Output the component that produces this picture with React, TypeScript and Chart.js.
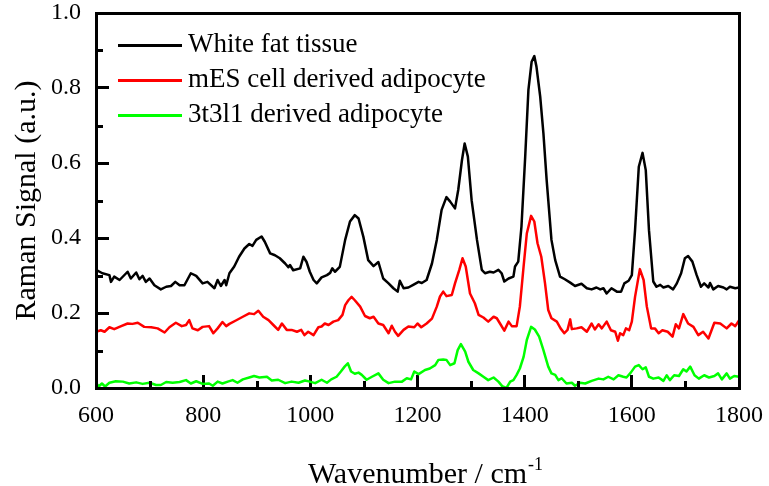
import { useEffect, useRef } from "react";
import { Chart, registerables } from "chart.js";

Chart.register(...registerables);

const FONT = "'Liberation Serif', 'Times New Roman', Times, serif";

const seriesLabels = ["White fat tissue", "mES cell derived adipocyte", "3t3l1 derived adipocyte"];
const seriesColors = ["#000000", "#ff0000", "#00ff00"];

const xTitle = "Wavenumber / cm";
const xTitleSup = "-1";
const yTitle = "Raman Signal (a.u.)";

const whiteWn = [600, 612, 625, 628, 634, 644, 659, 665, 675, 681, 687, 693, 700, 709, 721, 731, 740, 748, 756, 765, 777, 787, 799, 808, 821, 827, 833, 840, 843, 849, 858, 867, 877, 886, 892, 899, 909, 915, 925, 934, 943, 953, 959, 962, 968, 981, 987, 993, 999, 1006, 1012, 1021, 1031, 1037, 1041, 1046, 1055, 1065, 1074, 1083, 1090, 1099, 1108, 1118, 1127, 1136, 1146, 1155, 1163, 1167, 1174, 1183, 1192, 1202, 1208, 1217, 1227, 1236, 1245, 1254, 1261, 1270, 1276, 1283, 1288, 1294, 1301, 1311, 1320, 1326, 1335, 1342, 1351, 1357, 1362, 1370, 1379, 1382, 1388, 1394, 1401, 1407, 1413, 1418, 1422, 1429, 1435, 1441, 1450, 1457, 1466, 1475, 1485, 1494, 1506, 1516, 1525, 1534, 1541, 1547, 1553, 1562, 1572, 1580, 1586, 1594, 1600, 1606, 1613, 1620, 1626, 1632, 1640, 1646, 1653, 1659, 1668, 1677, 1684, 1692, 1699, 1705, 1713, 1721, 1729, 1735, 1743, 1746, 1752, 1761, 1771, 1777, 1783, 1793, 1800];
const whiteVal = [0.315, 0.306, 0.301, 0.283, 0.297, 0.288, 0.31, 0.292, 0.308, 0.29, 0.299, 0.283, 0.292, 0.274, 0.263, 0.27, 0.272, 0.283, 0.274, 0.274, 0.306, 0.299, 0.279, 0.283, 0.266, 0.288, 0.272, 0.288, 0.274, 0.306, 0.324, 0.35, 0.372, 0.384, 0.379, 0.395, 0.404, 0.39, 0.359, 0.354, 0.346, 0.332, 0.322, 0.328, 0.314, 0.319, 0.35, 0.336, 0.31, 0.288, 0.279, 0.295, 0.301, 0.307, 0.319, 0.31, 0.323, 0.395, 0.444, 0.461, 0.452, 0.403, 0.341, 0.325, 0.336, 0.292, 0.279, 0.266, 0.257, 0.286, 0.266, 0.268, 0.275, 0.283, 0.28, 0.288, 0.332, 0.395, 0.475, 0.509, 0.497, 0.479, 0.528, 0.608, 0.652, 0.617, 0.501, 0.395, 0.315, 0.306, 0.31, 0.308, 0.315, 0.306, 0.284, 0.292, 0.297, 0.324, 0.337, 0.43, 0.617, 0.795, 0.87, 0.885, 0.857, 0.777, 0.679, 0.555, 0.395, 0.341, 0.297, 0.29, 0.281, 0.272, 0.278, 0.266, 0.263, 0.268, 0.263, 0.266, 0.252, 0.266, 0.257, 0.257, 0.279, 0.286, 0.301, 0.421, 0.59, 0.627, 0.581, 0.421, 0.284, 0.27, 0.275, 0.268, 0.272, 0.263, 0.279, 0.306, 0.346, 0.352, 0.337, 0.301, 0.27, 0.279, 0.268, 0.28, 0.263, 0.272, 0.268, 0.263, 0.27, 0.266, 0.268];

const mesWn = [600, 609, 616, 625, 634, 647, 659, 668, 678, 690, 703, 715, 728, 737, 749, 760, 768, 774, 780, 790, 799, 811, 819, 827, 836, 843, 849, 861, 874, 886, 895, 903, 912, 922, 931, 940, 947, 956, 965, 975, 983, 989, 996, 1006, 1015, 1021, 1027, 1034, 1043, 1052, 1060, 1065, 1071, 1077, 1083, 1093, 1102, 1111, 1118, 1127, 1136, 1146, 1152, 1158, 1164, 1174, 1183, 1194, 1200, 1207, 1217, 1227, 1236, 1242, 1248, 1254, 1264, 1270, 1278, 1284, 1290, 1298, 1307, 1314, 1323, 1332, 1342, 1348, 1354, 1362, 1370, 1376, 1385, 1391, 1398, 1404, 1412, 1418, 1424, 1431, 1438, 1444, 1450, 1460, 1467, 1474, 1480, 1485, 1488, 1497, 1506, 1516, 1525, 1531, 1538, 1544, 1553, 1561, 1569, 1574, 1578, 1584, 1589, 1595, 1600, 1606, 1615, 1622, 1628, 1636, 1643, 1650, 1657, 1667, 1676, 1682, 1688, 1696, 1705, 1715, 1724, 1733, 1743, 1754, 1765, 1777, 1786, 1793, 1800];
const mesVal = [0.15, 0.154, 0.15, 0.162, 0.157, 0.165, 0.172, 0.171, 0.174, 0.163, 0.162, 0.159, 0.148, 0.162, 0.174, 0.165, 0.168, 0.181, 0.159, 0.154, 0.163, 0.165, 0.146, 0.159, 0.176, 0.165, 0.171, 0.18, 0.19, 0.199, 0.197, 0.206, 0.19, 0.181, 0.168, 0.155, 0.172, 0.155, 0.155, 0.15, 0.155, 0.141, 0.15, 0.141, 0.162, 0.164, 0.172, 0.168, 0.177, 0.181, 0.195, 0.221, 0.234, 0.243, 0.234, 0.217, 0.192, 0.186, 0.19, 0.172, 0.168, 0.146, 0.166, 0.15, 0.139, 0.155, 0.164, 0.162, 0.172, 0.162, 0.172, 0.185, 0.217, 0.244, 0.257, 0.245, 0.248, 0.279, 0.315, 0.346, 0.324, 0.252, 0.226, 0.195, 0.188, 0.177, 0.19, 0.186, 0.172, 0.153, 0.177, 0.165, 0.165, 0.217, 0.324, 0.412, 0.459, 0.444, 0.386, 0.35, 0.279, 0.208, 0.186, 0.177, 0.159, 0.146, 0.155, 0.183, 0.157, 0.159, 0.162, 0.15, 0.172, 0.156, 0.17, 0.159, 0.177, 0.154, 0.15, 0.126, 0.146, 0.141, 0.159, 0.154, 0.177, 0.243, 0.317, 0.288, 0.217, 0.159, 0.159, 0.146, 0.154, 0.15, 0.137, 0.17, 0.159, 0.197, 0.172, 0.163, 0.141, 0.15, 0.132, 0.174, 0.172, 0.159, 0.172, 0.165, 0.18];

const t3Wn = [600, 605, 611, 617, 625, 637, 650, 662, 675, 687, 700, 712, 721, 731, 743, 756, 768, 777, 787, 799, 811, 818, 827, 836, 846, 855, 864, 874, 886, 895, 905, 919, 928, 940, 953, 965, 978, 990, 999, 1009, 1021, 1031, 1039, 1049, 1057, 1064, 1070, 1076, 1083, 1090, 1096, 1105, 1115, 1127, 1136, 1146, 1158, 1171, 1180, 1188, 1194, 1202, 1214, 1223, 1233, 1239, 1248, 1254, 1261, 1269, 1275, 1281, 1289, 1295, 1304, 1314, 1323, 1332, 1342, 1351, 1358, 1366, 1373, 1379, 1385, 1391, 1398, 1404, 1412, 1419, 1427, 1435, 1444, 1450, 1457, 1463, 1469, 1478, 1488, 1494, 1503, 1513, 1525, 1538, 1547, 1556, 1566, 1575, 1584, 1590, 1598, 1606, 1613, 1620, 1626, 1632, 1640, 1650, 1659, 1665, 1671, 1679, 1688, 1696, 1702, 1709, 1717, 1725, 1735, 1744, 1754, 1761, 1768, 1777, 1783, 1791, 1800];
const t3Val = [0.014, 0.004, 0.012, 0.004, 0.014, 0.018, 0.017, 0.012, 0.015, 0.011, 0.014, 0.008, 0.008, 0.016, 0.014, 0.016, 0.021, 0.012, 0.018, 0.011, 0.012, 0.006, 0.017, 0.012, 0.017, 0.021, 0.014, 0.023, 0.028, 0.032, 0.028, 0.03, 0.02, 0.022, 0.013, 0.017, 0.014, 0.02, 0.017, 0.013, 0.022, 0.014, 0.023, 0.03, 0.044, 0.057, 0.066, 0.044, 0.038, 0.041, 0.035, 0.022, 0.03, 0.039, 0.022, 0.013, 0.017, 0.017, 0.026, 0.023, 0.044, 0.037, 0.048, 0.052, 0.061, 0.075, 0.076, 0.075, 0.061, 0.066, 0.101, 0.117, 0.097, 0.07, 0.048, 0.039, 0.03, 0.021, 0.028, 0.017, 0.005, 0.0, 0.017, 0.021, 0.035, 0.052, 0.083, 0.128, 0.163, 0.156, 0.137, 0.101, 0.057, 0.039, 0.035, 0.021, 0.026, 0.012, 0.014, 0.006, 0.014, 0.012, 0.019, 0.025, 0.023, 0.03, 0.023, 0.034, 0.03, 0.028, 0.041, 0.057, 0.061, 0.05, 0.055, 0.03, 0.025, 0.028, 0.019, 0.034, 0.021, 0.034, 0.032, 0.05, 0.044, 0.057, 0.034, 0.025, 0.034, 0.028, 0.032, 0.039, 0.023, 0.039, 0.025, 0.032, 0.03];

const xMin = 600;
const xMax = 1800;
const xStep = 200;
const yMin = 0;
const yMax = 1.0;
const yStep = 0.2;

const MAJOR_TICK = 13;
const MINOR_TICK = 7;
const AXIS_W = 3;
const TICK_W = 3;

const toPoints = (xs: number[], ys: number[]) => xs.map((x, i) => ({ x, y: ys[i] }));

const framePlugin = {
  id: "frame",
  afterDatasetsDraw(chart: any) {
    const { ctx, chartArea: a, scales } = chart;
    const xs = scales.x;
    const ys = scales.y;
    const L = Math.round(a.left), R = Math.round(a.right), T = Math.round(a.top), B = Math.round(a.bottom);
    const h = Math.floor(AXIS_W / 2);
    const th = Math.floor(TICK_W / 2);
    ctx.save();
    ctx.fillStyle = "#000000";
    // top and right sides of the frame (left/bottom come from the axis borders)
    ctx.fillRect(L - h, T - h, R - L + AXIS_W, AXIS_W);
    ctx.fillRect(R - h, T - h, AXIS_W, B - T + AXIS_W);
    ctx.fillRect(L - h, B - h, R - L + AXIS_W, AXIS_W);
    ctx.fillRect(L - h, T - h, AXIS_W, B - T + AXIS_W);

    // inward minor ticks
    const xt = xs.ticks.map((t: any) => t.value);
    xt.forEach((v: number, i: number) => {
      if (i < xt.length - 1) {
        const m = Math.round(xs.getPixelForValue((v + xt[i + 1]) / 2));
        ctx.fillRect(m - th, B - MINOR_TICK, TICK_W, MINOR_TICK);
      }
    });
    const yt = ys.ticks.map((t: any) => t.value);
    yt.forEach((v: number, i: number) => {
      if (i < yt.length - 1) {
        const m = Math.round(ys.getPixelForValue((v + yt[i + 1]) / 2));
        ctx.fillRect(L, m - th, MINOR_TICK, TICK_W);
      }
    });

    // legend
    ctx.font = `27px ${FONT}`;
    ctx.textBaseline = "middle";
    ctx.textAlign = "left";
    chart.data.datasets.forEach((ds: any, i: number) => {
      const y = T + 32 + i * 35;
      ctx.fillStyle = ds.borderColor;
      ctx.fillRect(L + 22, y - 1, 64, 3);
      ctx.fillStyle = "#000";
      ctx.fillText(ds.label, L + 92, y);
    });

    // x title with superscript
    ctx.fillStyle = "#000";
    ctx.textBaseline = "alphabetic";
    ctx.font = `30px ${FONT}`;
    const cx = (L + R) / 2;
    const w = ctx.measureText(xTitle).width;
    const by = B + 95;
    ctx.textAlign = "left";
    ctx.fillText(xTitle, cx - w / 2, by);
    ctx.font = `18px ${FONT}`;
    ctx.fillText(xTitleSup, cx + w / 2 + 1, by - 13);
    ctx.restore();
  },
};

const zeroPad = (s: any) => {
  s.paddingTop = 0;
  s.paddingBottom = 0;
  s.paddingLeft = 0;
  s.paddingRight = 0;
};

export default function App() {
  const ref = useRef<HTMLCanvasElement | null>(null);
  useEffect(() => {
    document.body.style.margin = "0";
    const canvas = ref.current;
    if (!canvas) return;
    const chart = new Chart(canvas, {
      type: "line",
      data: {
        datasets: [
          { label: seriesLabels[0], data: toPoints(whiteWn, whiteVal), borderColor: seriesColors[0] },
          { label: seriesLabels[1], data: toPoints(mesWn, mesVal), borderColor: seriesColors[1] },
          { label: seriesLabels[2], data: toPoints(t3Wn, t3Val), borderColor: seriesColors[2] },
        ].map((d) => ({
          ...d,
          borderWidth: 2.5,
          pointRadius: 0,
          tension: 0,
          fill: false,
          borderJoinStyle: "round" as const,
        })),
      },
      options: {
        responsive: false,
        animation: false,
        events: [],
        layout: { padding: { top: 13, right: 30, left: 0, bottom: 0 } },
        plugins: { legend: { display: false }, tooltip: { enabled: false }, title: { display: false } },
        scales: {
          x: {
            type: "linear",
            min: xMin,
            max: xMax,
            grid: {
              display: true,
              drawOnChartArea: false,
              drawTicks: true,
              tickLength: -MAJOR_TICK,
              tickWidth: TICK_W,
              tickColor: "#000",
              color: "#000",
              lineWidth: TICK_W,
            },
            border: { display: true, color: "#000", width: AXIS_W },
            ticks: {
              stepSize: xStep,
              padding: 13 + MAJOR_TICK,
              color: "#000",
              font: { family: FONT, size: 24 },
              maxRotation: 0,
              callback: (v: any) => String(v),
            },
            afterFit: (s: any) => {
              s.height = 98;
              zeroPad(s);
            },
          },
          y: {
            type: "linear",
            min: yMin,
            max: yMax,
            grid: {
              display: true,
              drawOnChartArea: false,
              drawTicks: true,
              tickLength: -MAJOR_TICK,
              tickWidth: TICK_W,
              tickColor: "#000",
              color: "#000",
              lineWidth: TICK_W,
            },
            border: { display: true, color: "#000", width: AXIS_W },
            ticks: {
              stepSize: yStep,
              padding: 15 + MAJOR_TICK,
              color: "#000",
              font: { family: FONT, size: 24 },
              callback: (v: any) => Number(v).toFixed(1),
            },
            title: {
              display: true,
              text: yTitle,
              color: "#000",
              font: { family: FONT, size: 30 },
              padding: { top: 9, bottom: 0 },
            },
            afterFit: (s: any) => {
              s.width = 96;
              zeroPad(s);
            },
          },
        },
      },
      plugins: [framePlugin],
    });
    return () => chart.destroy();
  }, []);
  return (
    <div style={{ width: 769, height: 486, background: "#fff" }}>
      <canvas ref={ref} width={769} height={486} style={{ display: "block" }} />
    </div>
  );
}
